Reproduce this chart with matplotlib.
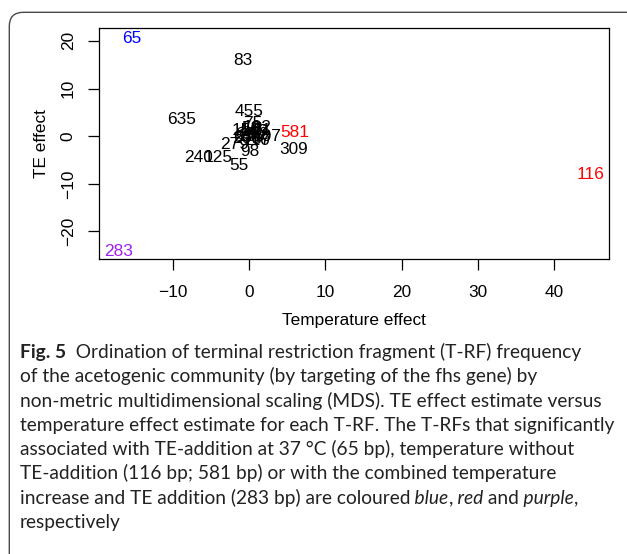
import matplotlib
matplotlib.use("Agg")
import matplotlib.pyplot as plt
from matplotlib.patches import FancyBboxPatch
from matplotlib.transforms import IdentityTransform

# T-RF (bp) and their effect estimates
trf = ["65", "83", "283", "116", "581", "309", "455", "635", "240", "125",
       "55", "98", "279", "150", "75", "107", "140", "130", "72", "200",
       "61", "102", "69", "87", "110", "58", "63"]
temp_effect = [-15.43, -0.88, -17.18, 44.72, 5.92, 5.79, -0.07, -8.86, -6.59, -4.09,
               -1.30, 0.10, -1.90, -0.42, 0.50, 2.36, 0.60, 0.30, 1.30, -0.30,
               1.70, 1.00, -0.60, 1.50, 0.90, 0.20, -0.90]
te_effect = [20.84, 16.10, -23.98, -7.64, 1.09, -2.41, 5.49, 3.75, -4.25, -4.25,
             -5.88, -2.89, -1.49, 1.50, 2.90, 0.25, 1.20, 0.30, 0.60, -0.20,
             1.50, 2.10, 0.70, -0.40, -0.60, 1.90, 0.00]
trf_colour = {"65": "blue", "116": "red", "581": "red", "283": "#A020F0"}

caption = [
    [("Fig. 5", "bold"), ("  Ordination of terminal restriction fragment (T-RF) frequency", "normal")],
    [("of the acetogenic community (by targeting of the fhs gene) by", "normal")],
    [("non-metric multidimensional scaling (MDS). TE effect estimate versus", "normal")],
    [("temperature effect estimate for each T-RF. The T-RFs that significantly", "normal")],
    [("associated with TE-addition at 37 °C (65 bp), temperature without", "normal")],
    [("TE-addition (116 bp; 581 bp) or with the combined temperature", "normal")],
    [("increase and TE addition (283 bp) are coloured", "normal"), (" blue", "italic"),
     (",", "normal"), (" red", "italic"), (" and", "normal"), (" purple", "italic"), (",", "normal")],
    [("respectively", "normal")],
]

W, H = 627, 554
plt.rcParams['font.family'] = 'Liberation Sans'
fig = plt.figure(figsize=(W / 100, H / 100), dpi=100)

# plot region (pixel positions from the reference)
left, right, top, bottom = 99.3, 609.0, 28.3, 259.0
ax = fig.add_axes([left / W, (H - bottom) / H, (right - left) / W, (bottom - top) / H])

# empty plot, then text labels (like R's plot(type="n") + text())
ax.plot(temp_effect, te_effect, linestyle='none')
ax.margins(x=0.04, y=0.04)
for name, x, y in zip(trf, temp_effect, te_effect):
    ax.text(x, y, name, ha='center', va='center_baseline', fontsize=12.4,
            color=trf_colour.get(name, 'black'))

ax.set_xticks([-10, 0, 10, 20, 30, 40])
ax.set_yticks([-20, -10, 0, 10, 20])
ax.tick_params(direction='out', length=7.9, width=0.9, labelsize=12.4)
ax.tick_params(axis='x', pad=11.0)
ax.tick_params(axis='y', pad=9.0, labelrotation=90)
plt.setp(ax.get_yticklabels(), va='center')
for s in ax.spines.values():
    s.set_linewidth(0.9)

ax.set_xlabel("Temperature effect", fontsize=12.4, va='center')
ax.set_ylabel("TE effect", fontsize=12.4, va='center')
ax.xaxis.set_label_coords(0.5, -0.268)
ax.yaxis.set_label_coords(-0.113, 0.5)

# rounded panel border (top-left corner only visible)
border = FancyBboxPatch((9.3, -40), 700, H - 12.3 + 40,
                        boxstyle="round,pad=0,rounding_size=14",
                        transform=IdentityTransform(), fill=False,
                        ec='#4a4a4a', lw=1.0)
fig.add_artist(border)

# caption
cap_ax = fig.add_axes([0, 0, 1, 1])
cap_ax.axis('off')
cap_font = 'Lato'
probe = fig.text(0, 0, caption[3][0][0], family=cap_font, fontsize=10)
w = probe.get_window_extent(fig.canvas.get_renderer()).width
probe.remove()
cap_size = 10 * 594 / w

x0 = 20
base0, step = 358.0, 24.3
for i, parts in enumerate(caption):
    yb = H - (base0 + i * step)
    prev = None
    for txt, style in parts:
        kw = dict(family=cap_font, fontsize=cap_size, color='#222222', va='baseline', ha='left',
                  fontweight='bold' if style == 'bold' else 'normal',
                  fontstyle='italic' if style == 'italic' else 'normal')
        if prev is None:
            prev = cap_ax.text(x0, yb, txt, transform=IdentityTransform(), **kw)
        else:
            prev = cap_ax.annotate(txt, xy=(1, yb), xycoords=(prev, IdentityTransform()), **kw)

fig.savefig("out.png", dpi=100)
